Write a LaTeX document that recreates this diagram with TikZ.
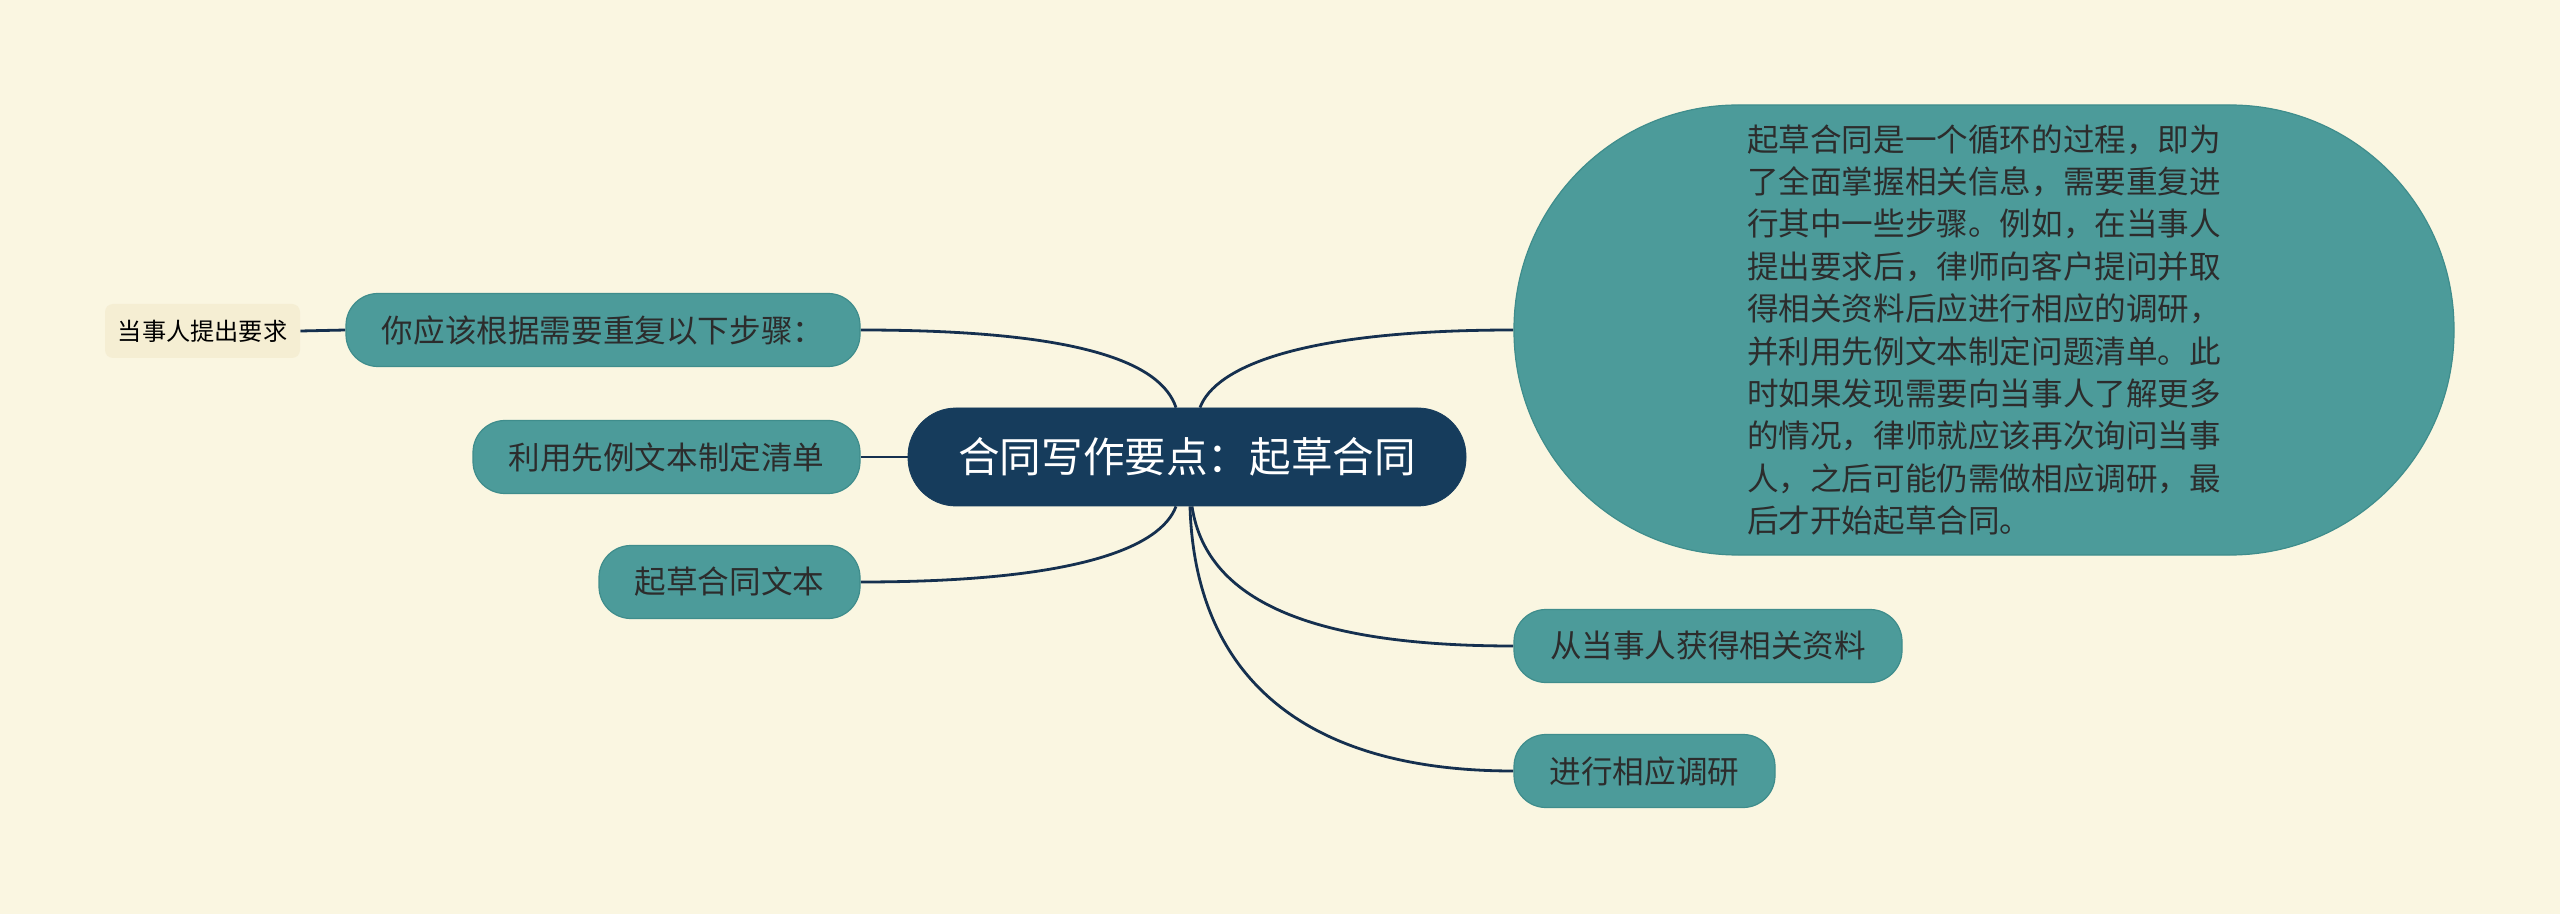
\documentclass[tikz,border=0pt]{standalone}
\usepackage{fontspec}
\setmainfont{Noto Sans CJK SC}
\usetikzlibrary{calc,backgrounds}
\definecolor{bgc}{HTML}{FAF6E1}
\definecolor{leaffill}{HTML}{4C9B9A}
\definecolor{leafdraw}{HTML}{3F8D8C}
\definecolor{rootfill}{HTML}{163C5C}
\definecolor{linec}{HTML}{15304F}
\definecolor{txtc}{HTML}{2C2C2C}
\definecolor{smallfill}{HTML}{F5EED3}
\begin{document}
\begin{tikzpicture}[x=0.5pt,y=-0.5pt,
  leafbox/.style={shape=rectangle, fill=leaffill, draw=leafdraw, line width=0.6pt, rounded corners=16pt, minimum height=36.5pt, inner sep=0pt, text=txtc, font=\fontsize{15.8pt}{19pt}\selectfont},
  rootbox/.style={shape=rectangle, fill=rootfill, draw=rootfill, rounded corners=24pt, minimum height=49pt, minimum width=279pt, inner sep=0pt, text=white, font=\fontsize{20.8pt}{25pt}\selectfont},
  smallbox/.style={shape=rectangle, fill=smallfill, rounded corners=4pt, minimum height=27pt, minimum width=97.5pt, inner sep=0pt, text=black, font=\fontsize{12.1pt}{14pt}\selectfont},
  bigbox/.style={shape=rectangle, fill=leaffill, draw=leafdraw, line width=0.6pt, rounded corners=112pt, minimum width=470pt, minimum height=225pt, inner sep=0pt, align=left, text=txtc, font=\fontsize{15.8pt}{19.1pt}\selectfont},
  conn/.style={draw=linec, line width=1.4pt}]
\useasboundingbox (0,0) rectangle (2560,914);

\node[rootbox] (c) at (1187,457) {合同写作要点：起草合同};
\node[leafbox, minimum width=257pt] (n1) at (603,330) {你应该根据需要重复以下步骤：};
\node[leafbox, minimum width=193.5pt] (n2) at (666.5,457) {利用先例文本制定清单};
\node[leafbox, minimum width=130.5pt] (n3) at (729.5,582) {起草合同文本};
\node[smallbox] (s) at (202.5,331) {当事人提出要求};
\node[bigbox] (big) at (1984,330) {起草合同是一个循环的过程，即为\\[2.1pt]了全面掌握相关信息，需要重复进\\[2.1pt]行其中一些步骤。例如，在当事人\\[2.1pt]提出要求后，律师向客户提问并取\\[2.1pt]得相关资料后应进行相应的调研，\\[2.1pt]并利用先例文本制定问题清单。此\\[2.1pt]时如果发现需要向当事人了解更多\\[2.1pt]的情况，律师就应该再次询问当事\\[2.1pt]人，之后可能仍需做相应调研，最\\[2.1pt]后才开始起草合同。};
\node[leafbox, minimum width=194pt] (r1) at (1708,646) {从当事人获得相关资料};
\node[leafbox, minimum width=130.5pt] (r2) at (1644.5,771) {进行相应调研};

\begin{scope}[on background layer]
  \fill[bgc] (0,0) rectangle (2560,914);
  \draw[conn] (s.east) -- (n1.west);
  \draw[conn] (n1.east) .. controls +(220,0) and +(-15,-45) .. ($(c.north)+(-11,0)$);
  \draw[conn] ($(c.north)+(13,0)$) .. controls +(15,-40) and +(-215,0) .. (big.west);
  \draw[conn] (n2.east) -- (c.west);
  \draw[conn] (n3.east) .. controls +(220,0) and +(-15,40) .. ($(c.south)+(-11,0)$);
  \draw[conn] ($(c.south)+(5,0)$) .. controls +(15,100) and +(-190,0) .. (r1.west);
  \draw[conn] ($(c.south)+(3,0)$) .. controls +(5,170) and +(-210,0) .. (r2.west);
\end{scope}
\end{tikzpicture}
\end{document}
